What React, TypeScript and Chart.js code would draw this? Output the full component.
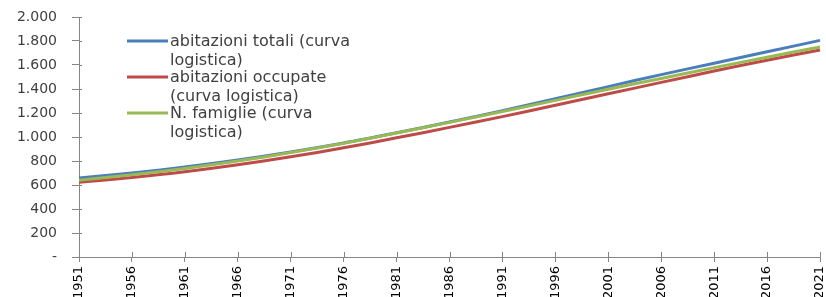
import React, { useEffect, useRef } from 'react';
import { Chart, registerables } from 'chart.js';

Chart.register(...registerables);

const years = ['1951', '1956', '1961', '1966', '1971', '1976', '1981', '1986', '1991', '1996', '2001', '2006', '2011', '2016', '2021'];
const abitazioniTotali = [658, 700, 750, 808, 875, 950, 1035, 1125, 1220, 1320, 1420, 1520, 1615, 1710, 1805];
const abitazioniOccupate = [622, 662, 710, 768, 835, 910, 993, 1080, 1170, 1265, 1360, 1455, 1550, 1640, 1725];
const nFamiglie = [640, 685, 738, 800, 870, 948, 1033, 1122, 1212, 1305, 1398, 1488, 1578, 1665, 1750];
const legendLines = [
  ['abitazioni totali (curva', 'logistica)'],
  ['abitazioni occupate', '(curva logistica)'],
  ['N. famiglie (curva', 'logistica)'],
];
const yMin = 0;
const yMax = 2000;
const yStep = 200;

const AXIS = '#868686';

const formatIt = (v: number) =>
  v === 0 ? '-' : String(v).replace(/\B(?=(\d{3})+(?!\d))/g, '.');

const crossTicks = {
  id: 'crossTicks',
  afterDraw(chart: any) {
    const { ctx, chartArea, scales } = chart;
    ctx.save();
    ctx.strokeStyle = AXIS;
    ctx.lineWidth = 1;
    ctx.beginPath();
    scales.y.ticks.forEach((_: any, i: number) => {
      const py = Math.round(scales.y.getPixelForTick(i)) + 0.5;
      ctx.moveTo(chartArea.left, py);
      ctx.lineTo(chartArea.left + 3, py);
    });
    scales.x.ticks.forEach((_: any, i: number) => {
      const px = Math.round(scales.x.getPixelForTick(i)) + 0.5;
      ctx.moveTo(px, chartArea.bottom);
      ctx.lineTo(px, chartArea.bottom - 5);
    });
    ctx.stroke();
    ctx.restore();
  },
};

const wrappedLegend = {
  id: 'wrappedLegend',
  afterDraw(chart: any) {
    const { ctx, chartArea } = chart;
    const x0 = chartArea.left + 48;
    const y0 = chartArea.top + 24;
    ctx.save();
    ctx.font = '16px "DejaVu Sans"';
    ctx.textBaseline = 'middle';
    ctx.textAlign = 'left';
    chart.data.datasets.forEach((ds: any, i: number) => {
      const y = y0 + i * 36;
      ctx.strokeStyle = ds.borderColor;
      ctx.lineWidth = 3;
      ctx.beginPath();
      ctx.moveTo(x0, y);
      ctx.lineTo(x0 + 41, y);
      ctx.stroke();
      ctx.fillStyle = '#404040';
      legendLines[i].forEach((t, j) => ctx.fillText(t, x0 + 43, y + 1 + j * 18.5));
    });
    ctx.restore();
  },
};

export default function App() {
  const ref = useRef<HTMLCanvasElement>(null);
  useEffect(() => {
    document.body.style.margin = '0';
    const chart = new Chart(ref.current!, {
      type: 'line',
      data: {
        labels: years,
        datasets: [
          { label: legendLines[0].join(' '), data: abitazioniTotali, borderColor: '#4A7EBB', backgroundColor: '#4A7EBB', borderWidth: 3, pointRadius: 0, tension: 0.35, order: 3 },
          { label: legendLines[1].join(' '), data: abitazioniOccupate, borderColor: '#BE4B48', backgroundColor: '#BE4B48', borderWidth: 3, pointRadius: 0, tension: 0.35, order: 2 },
          { label: legendLines[2].join(' '), data: nFamiglie, borderColor: '#98B954', backgroundColor: '#98B954', borderWidth: 3, pointRadius: 0, tension: 0.35, order: 1 },
        ],
      },
      options: {
        animation: false,
        responsive: false,
        layout: { autoPadding: false, padding: { top: 17, right: 6, left: 0, bottom: 0 } },
        plugins: { legend: { display: false }, tooltip: { enabled: false } },
        scales: {
          x: {
            offset: false,
            grid: { display: true, drawOnChartArea: false, tickLength: 5, color: AXIS },
            border: { color: AXIS },
            ticks: {
              autoSkip: false,
              minRotation: 90,
              maxRotation: 90,
              padding: 4,
              color: '#000',
              font: { family: 'DejaVu Sans', size: 13 },
            },
            afterFit: (s: any) => { s.height = 40; s.paddingLeft = 0; s.paddingRight = 0; },
          },
          y: {
            min: yMin,
            max: yMax,
            grid: { display: true, drawOnChartArea: false, tickLength: 7, color: AXIS },
            border: { color: AXIS },
            ticks: {
              stepSize: yStep,
              padding: 15,
              color: '#404040',
              font: { family: 'DejaVu Sans', size: 14 },
              callback: (v: any) => formatIt(Number(v)),
            },
            afterFit: (s: any) => { s.width = 79; s.paddingTop = 0; s.paddingBottom = 0; },
          },
        },
      },
      plugins: [crossTicks, wrappedLegend],
    });
    return () => chart.destroy();
  }, []);
  return <canvas ref={ref} width={826} height={297} style={{ display: 'block' }} />;
}
